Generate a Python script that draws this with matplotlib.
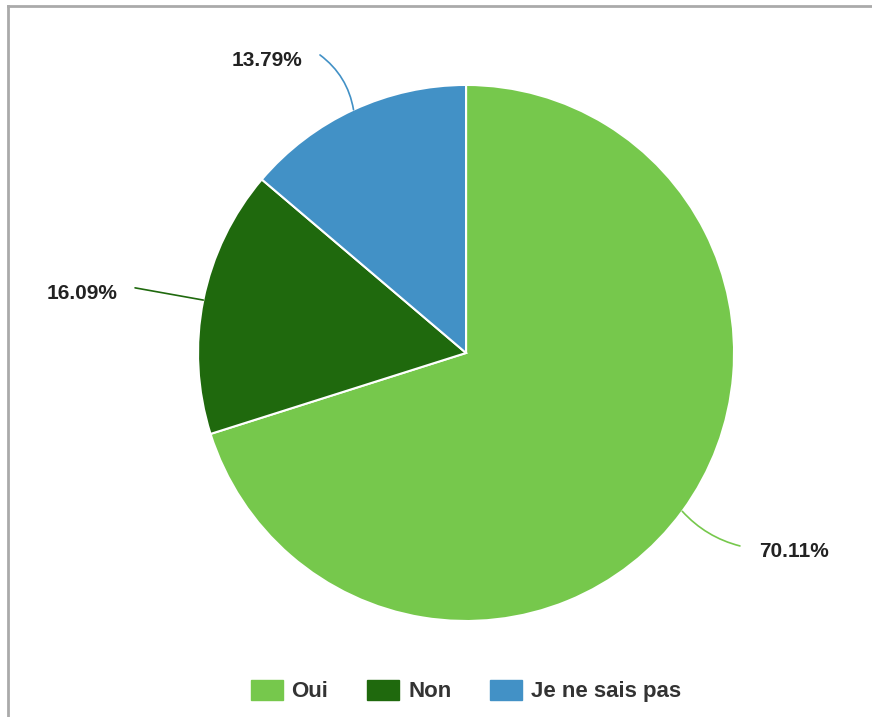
import numpy as np
import matplotlib.pyplot as plt
from matplotlib.patches import Patch
from matplotlib.lines import Line2D

labels = ["Oui", "Non", "Je ne sais pas"]
values = [70.11, 16.09, 13.79]
colors = ["#76c84c", "#1f690d", "#4291c6"]

plt.rcParams['font.family'] = ['Liberation Sans', 'DejaVu Sans']

fig = plt.figure(figsize=(8.72, 7.17), dpi=100)
ax = fig.add_axes([0.2271, 0.1339, 0.6147, 0.7476])

wedges, _ = ax.pie(values, colors=colors, startangle=90, counterclock=False,
                   radius=1, wedgeprops=dict(edgecolor='white', linewidth=1.5))
ax.set_xlim(-1, 1)
ax.set_ylim(-1, 1)
ax.set_aspect('auto')
ax.axis('off')

# label end points (axes data units) and curvature of leader lines
label_pos = [(1.022, -0.72), (-1.235, 0.243), (-0.545, 1.112)]
rads = [-0.15, 0.0, -0.2]
for w, v, c, (lx, ly), rad in zip(wedges, values, colors, label_pos, rads):
    ang = np.deg2rad((w.theta1 + w.theta2) / 2)
    edge = (np.cos(ang), np.sin(ang))
    ax.annotate('', xy=edge, xytext=(lx, ly),
                arrowprops=dict(arrowstyle='-', color=c, lw=1.2,
                                shrinkA=0, shrinkB=0,
                                connectionstyle=f"arc3,rad={rad}"),
                annotation_clip=False)
    ha = 'left' if lx > 0 else 'right'
    dx = 0.07 if lx > 0 else -0.065
    ax.text(lx + dx, ly - 0.022, f"{v:.2f}%", ha=ha, va='center',
            fontsize=15, fontweight='bold', color='#222222')

handles = [Patch(facecolor=c, edgecolor=c) for c in colors]
fig.legend(handles, labels, loc='center', bbox_to_anchor=(466 / 872, 26 / 717),
           ncol=3, frameon=False, prop=dict(size=16, weight='bold'),
           handlelength=1.44, handleheight=1.05, handletextpad=0.4,
           columnspacing=1.75, labelcolor='#333333')

# partial frame (top and left) like the original screenshot
fig.add_artist(Line2D([7.5 / 872, 1], [1 - 5.5 / 717, 1 - 5.5 / 717],
                      transform=fig.transFigure, color='#aaaaaa', lw=2))
fig.add_artist(Line2D([7.5 / 872, 7.5 / 872], [0, 1 - 5.5 / 717],
                      transform=fig.transFigure, color='#aaaaaa', lw=2))

fig.savefig('out.png', dpi=100)
